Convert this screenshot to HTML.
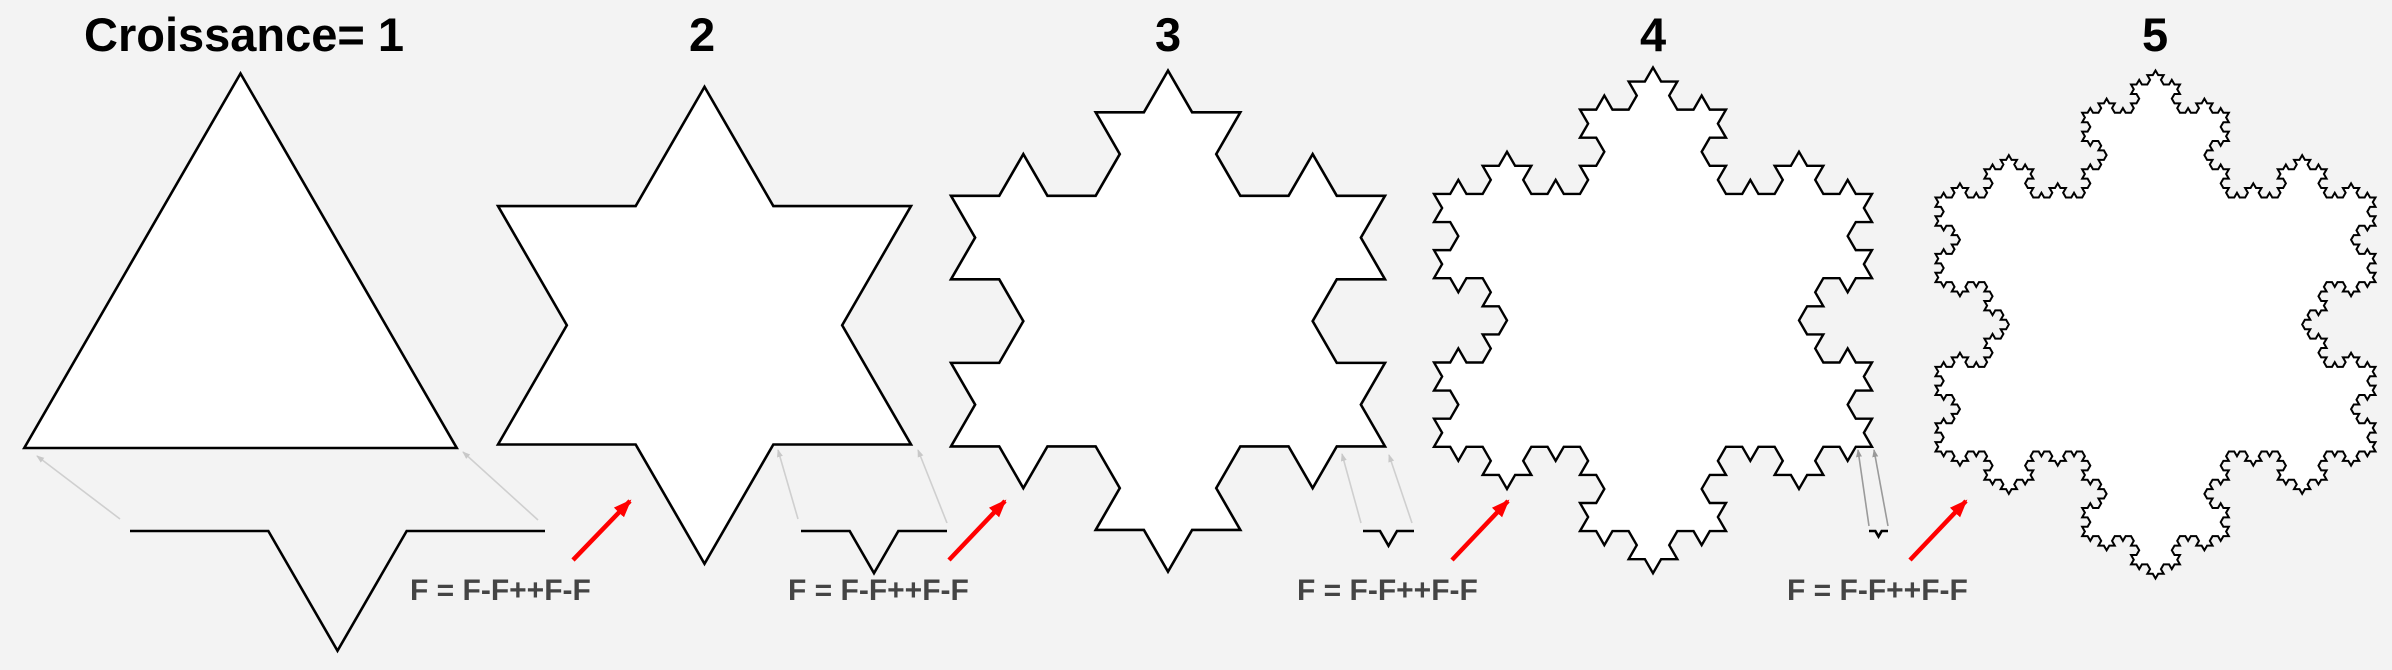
<!DOCTYPE html>
<html><head><meta charset="utf-8">
<style>
html,body{margin:0;padding:0;background:#f3f3f3;}
body{width:2392px;height:670px;overflow:hidden;position:relative;font-family:"Liberation Sans",Arial,sans-serif;}
.t{position:absolute;font-weight:bold;font-size:47px;color:#000;line-height:1;top:11px;}
.f{position:absolute;font-weight:bold;font-size:30px;color:#444;line-height:1;top:576px;white-space:pre;}
svg{position:absolute;left:0;top:0;}
</style></head><body>
<svg width="2392" height="670" viewBox="0 0 2392 670">
<g id="flakes" fill="#fff" stroke="#000" stroke-linejoin="miter">
<path id="k1" stroke-width="2.6"/>
<path id="k2" stroke-width="2.6"/>
<path id="k3" stroke-width="2.6"/>
<path id="k4" stroke-width="2.4"/>
<path id="k5" stroke-width="2"/>
</g>
<g fill="none" stroke="#000" stroke-width="2.6">
<path id="g1"/><path id="g2"/><path id="g3"/><path id="g4"/>
</g>
<defs>
<marker id="ag" markerWidth="8" markerHeight="8" refX="7" refY="4" orient="auto" markerUnits="userSpaceOnUse"><path d="M0,1 L8,4 L0,7 Z" fill="#c8c8c8"/></marker>
<marker id="ad" markerWidth="8" markerHeight="8" refX="7" refY="4" orient="auto" markerUnits="userSpaceOnUse"><path d="M0,1 L8,4 L0,7 Z" fill="#999"/></marker>
<marker id="ar" markerWidth="18" markerHeight="16" refX="16" refY="8" orient="auto" markerUnits="userSpaceOnUse"><path d="M0,1 L18,8 L0,15 Z" fill="#f00"/></marker>
</defs>
<g stroke="#cfcfcf" stroke-width="1.6" marker-end="url(#ag)">
<line x1="120" y1="519" x2="37" y2="456"/>
<line x1="538" y1="520" x2="463" y2="452"/>
<line x1="798" y1="519" x2="778" y2="450"/>
<line x1="947" y1="523" x2="918" y2="450"/>
<line x1="1361" y1="523" x2="1342" y2="454"/>
<line x1="1412" y1="523" x2="1389" y2="455"/>
</g>
<g stroke="#9a9a9a" stroke-width="1.6" marker-end="url(#ad)">
<line x1="1869" y1="526" x2="1858" y2="450"/>
<line x1="1888" y1="526" x2="1874" y2="450"/>
</g>
<g stroke="#f00" stroke-width="4.5" marker-end="url(#ar)">
<line x1="573" y1="560" x2="630" y2="501"/>
<line x1="949" y1="560" x2="1005" y2="501"/>
<line x1="1452" y1="560" x2="1508" y2="501"/>
<line x1="1910" y1="560" x2="1966" y2="501"/>
</g>
</svg>
<div class="t" style="left:84px">Croissance= 1</div>
<div class="t" style="left:689px">2</div>
<div class="t" style="left:1155px">3</div>
<div class="t" style="left:1640px">4</div>
<div class="t" style="left:2142px">5</div>
<div class="f" style="left:410px">F = F-F++F-F</div>
<div class="f" style="left:788px">F = F-F++F-F</div>
<div class="f" style="left:1297px">F = F-F++F-F</div>
<div class="f" style="left:1787px">F = F-F++F-F</div>
<script>
function koch(a,b,n,out){
  if(n===0){out.push(b);return;}
  var dx=(b[0]-a[0])/3,dy=(b[1]-a[1])/3;
  var p1=[a[0]+dx,a[1]+dy],p3=[a[0]+2*dx,a[1]+2*dy];
  var s=Math.sqrt(3)/2;
  var pk=[(a[0]+b[0])/2+dy*s,(a[1]+b[1])/2-dx*s];
  koch(a,p1,n-1,out);koch(p1,pk,n-1,out);koch(pk,p3,n-1,out);koch(p3,b,n-1,out);
}
function d(pts,close){return 'M'+pts.map(function(p){return p[0].toFixed(2)+','+p[1].toFixed(2);}).join(' L')+(close?' Z':'');}
function flake(id,cx,base,L,n){
  var h=L*Math.sqrt(3)/2;
  var bl=[cx-L/2,base],ap=[cx,base-h],br=[cx+L/2,base];
  var out=[bl];
  koch(bl,ap,n,out);koch(ap,br,n,out);koch(br,bl,n,out);
  document.getElementById(id).setAttribute('d',d(out,true));
}
flake('k1',240.5,448,432.5,0);
flake('k2',704.5,444.5,413,1);
flake('k3',1168,446.4,434,2);
flake('k4',1653,446.8,438,3);
flake('k5',2155.5,451.5,440,4);
function gen(id,x1,x2,y){
  var out=[[x1,y]];
  var dx=(x2-x1)/3,s=Math.sqrt(3)/2;
  out.push([x1+dx,y],[x1+1.5*dx,y+dx*s],[x1+2*dx,y],[x2,y]);
  document.getElementById(id).setAttribute('d',d(out,false));
}
gen('g1',130,545,531);
gen('g2',801,947,531);
gen('g3',1363,1414,531);
gen('g4',1869,1888,531);
</script>
</body></html>
